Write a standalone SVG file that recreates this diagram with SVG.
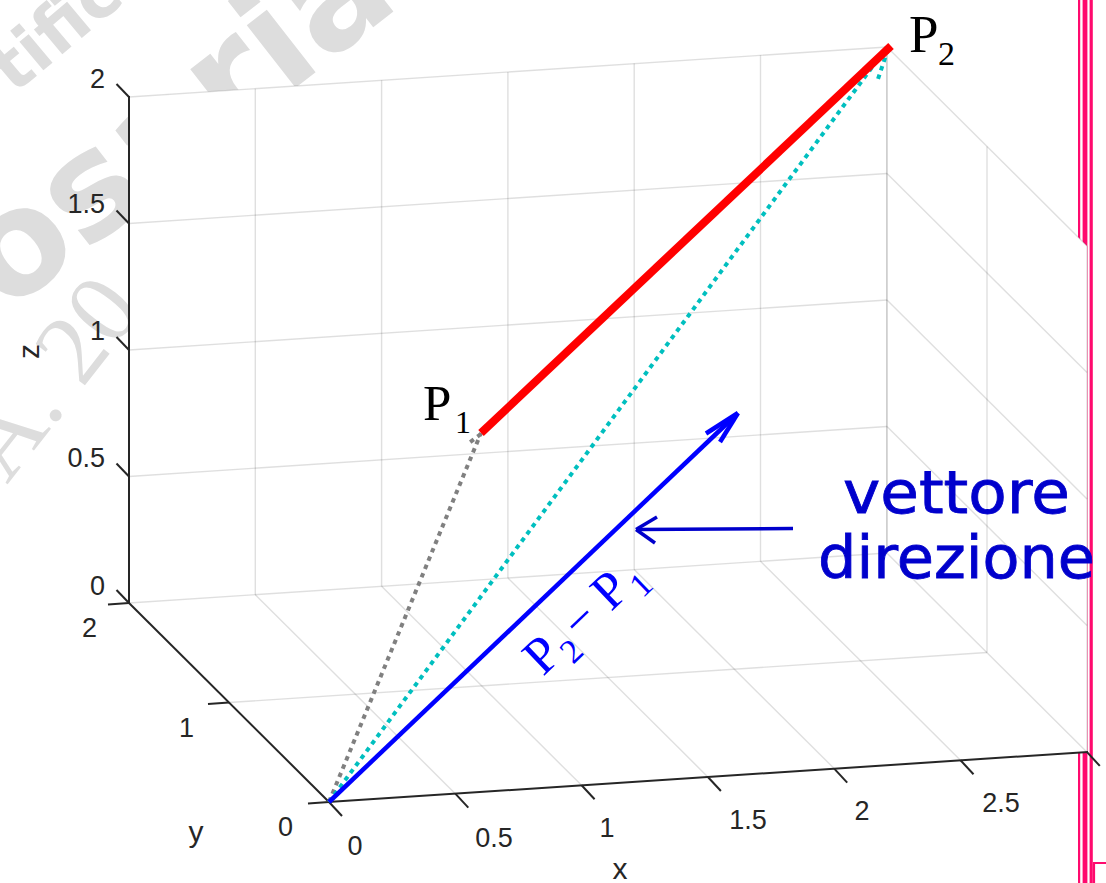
<svg xmlns="http://www.w3.org/2000/svg" width="1106" height="883" viewBox="0 0 1106 883">
<style>
.wm{fill:#dddddd;font-family:"DejaVu Sans",sans-serif;font-weight:bold}
.wms{fill:#dddddd;font-family:"Liberation Serif",serif}
.pink{fill:#ff0a6e}
.grid{stroke:#262626;stroke-opacity:0.15;stroke-width:1.4;fill:none}
.ax{stroke:#262626;stroke-width:2;fill:none;stroke-linecap:butt}
.tk{stroke:#262626;stroke-width:2;fill:none}
.tl{fill:#262626;font-family:"Liberation Sans",Arial,sans-serif;font-size:27px}
.al{fill:#262626;font-family:"Liberation Sans",Arial,sans-serif;font-size:30px}
.pt{fill:#000;font-family:"Liberation Serif","Times New Roman",serif}
.bt{fill:#0000ff;font-family:"Liberation Serif","Times New Roman",serif}
.ann{fill:#0000cc;font-family:"DejaVu Sans",sans-serif;font-size:58px;stroke:#0000cc;stroke-width:0.8}
.dot{fill:none;stroke-width:4;stroke-dasharray:4.5 4.5}
</style>

<g id="watermark">
  <text class="wm" font-size="68" transform="translate(14,95) rotate(-40)">tifica</text>
  <text class="wm" font-size="145" transform="translate(6,314) rotate(-38)">osaria</text>
  <text class="wms" font-size="100" transform="translate(7,485) rotate(-52)">A. 20</text>
</g>

<g id="page-frame">
  <rect class="pink" x="1078" y="0" width="2.2" height="883"/>
  <rect class="pink" x="1082.6" y="0" width="4.8" height="883"/>
  <rect class="pink" x="1089.6" y="0" width="3.2" height="883"/>
  <path d="M1094,883 V863 H1106" fill="none" stroke="#ff0a6e" stroke-width="2.2"/>
</g>

<g id="plot-box">
  <polygon points="129,97 887,47 1087,246 1087,752 329,802 129,603" fill="#ffffff"/>
</g>

<g id="grid">
  <line class="grid" x1="129" y1="603" x2="887" y2="553"/>
  <line class="grid" x1="129" y1="476.5" x2="887" y2="426.5"/>
  <line class="grid" x1="129" y1="350" x2="887" y2="300"/>
  <line class="grid" x1="129" y1="223.5" x2="887" y2="173.5"/>
  <line class="grid" x1="129" y1="97" x2="887" y2="47"/>
  <line class="grid" x1="255.3" y1="594.65" x2="255.3" y2="88.65"/>
  <line class="grid" x1="381.6" y1="586.3" x2="381.6" y2="80.3"/>
  <line class="grid" x1="507.9" y1="577.95" x2="507.9" y2="71.95"/>
  <line class="grid" x1="634.2" y1="569.6" x2="634.2" y2="63.6"/>
  <line class="grid" x1="760.5" y1="561.25" x2="760.5" y2="55.25"/>
  <line class="grid" x1="886.8" y1="552.9" x2="886.8" y2="46.9"/>
  <line class="grid" x1="455.3" y1="793.65" x2="255.3" y2="594.65"/>
  <line class="grid" x1="581.6" y1="785.3" x2="381.6" y2="586.3"/>
  <line class="grid" x1="707.9" y1="776.95" x2="507.9" y2="577.95"/>
  <line class="grid" x1="834.2" y1="768.6" x2="634.2" y2="569.6"/>
  <line class="grid" x1="960.5" y1="760.25" x2="760.5" y2="561.25"/>
  <line class="grid" x1="1086.8" y1="751.9" x2="886.8" y2="552.9"/>
  <line class="grid" x1="229" y1="702.5" x2="987" y2="652.5"/>
  <line class="grid" x1="887" y1="426.5" x2="1087" y2="625.5"/>
  <line class="grid" x1="887" y1="300" x2="1087" y2="499"/>
  <line class="grid" x1="887" y1="173.5" x2="1087" y2="372.5"/>
  <line class="grid" x1="887" y1="47" x2="1087" y2="246"/>
  <line class="grid" x1="987" y1="652.5" x2="987" y2="146.5"/>
  <line class="grid" x1="1087" y1="752" x2="1087" y2="246"/>
  <line class="grid" x1="887" y1="553" x2="887" y2="47"/>
</g>

<g id="axes">
  <line class="ax" x1="129" y1="604" x2="129" y2="96"/>
  <line class="ax" x1="329" y1="802" x2="129" y2="603"/>
  <line class="ax" x1="328" y1="802" x2="1088" y2="752"/>
  <line class="tk" x1="129" y1="603" x2="116.5" y2="590"/>
  <line class="tk" x1="129" y1="476.5" x2="116.5" y2="463.5"/>
  <line class="tk" x1="129" y1="350" x2="116.5" y2="337"/>
  <line class="tk" x1="129" y1="223.5" x2="116.5" y2="210.5"/>
  <line class="tk" x1="129" y1="97" x2="116.5" y2="84"/>
  <line class="tk" x1="329" y1="802" x2="308" y2="803.4"/>
  <line class="tk" x1="229" y1="702.5" x2="208" y2="703.9"/>
  <line class="tk" x1="129" y1="603" x2="108" y2="604.4"/>
  <line class="tk" x1="329" y1="802" x2="342" y2="816"/>
  <line class="tk" x1="455.3" y1="793.65" x2="468.3" y2="807.65"/>
  <line class="tk" x1="581.6" y1="785.3" x2="594.6" y2="799.3"/>
  <line class="tk" x1="707.9" y1="776.95" x2="720.9" y2="790.95"/>
  <line class="tk" x1="834.2" y1="768.6" x2="847.2" y2="782.6"/>
  <line class="tk" x1="960.5" y1="760.25" x2="973.5" y2="774.25"/>
  <line class="tk" x1="1086.8" y1="751.9" x2="1099.8" y2="765.9"/>
</g>

<g id="tick-labels">
  <text class="tl" x="105" y="88" text-anchor="end">2</text>
  <text class="tl" x="105" y="213" text-anchor="end">1.5</text>
  <text class="tl" x="105" y="340" text-anchor="end">1</text>
  <text class="tl" x="105" y="467" text-anchor="end">0.5</text>
  <text class="tl" x="105" y="595" text-anchor="end">0</text>
  <text class="tl" x="97" y="637" text-anchor="end">2</text>
  <text class="tl" x="194" y="737" text-anchor="end">1</text>
  <text class="tl" x="293" y="836" text-anchor="end">0</text>
  <text class="tl" x="355" y="855" text-anchor="middle">0</text>
  <text class="tl" x="494" y="847" text-anchor="middle">0.5</text>
  <text class="tl" x="607" y="837" text-anchor="middle">1</text>
  <text class="tl" x="748" y="829" text-anchor="middle">1.5</text>
  <text class="tl" x="862" y="820" text-anchor="middle">2</text>
  <text class="tl" x="1001" y="812" text-anchor="middle">2.5</text>
  <text class="al" x="196" y="842" text-anchor="middle">y</text>
  <text class="al" x="620" y="879" text-anchor="middle">x</text>
  <text class="al" text-anchor="middle" transform="translate(39,351.5) rotate(-90)">z</text>
</g>

<g id="connectors">
  <line id="op1" class="dot" stroke="#808080" x1="329" y1="802" x2="481" y2="433"/>
  <line class="dot" stroke="#808080" x1="481" y1="434" x2="469" y2="443"/>
  <line id="op2" class="dot" stroke="#00bfbf" x1="329" y1="802" x2="887" y2="47"/>
  <line class="dot" stroke="#00bfbf" x1="888" y1="49" x2="877" y2="82"/>
  <line id="segment" x1="481" y1="433" x2="891" y2="46" stroke="#ff0000" stroke-width="8"/>
  <g id="vector" stroke="#0000ff" stroke-width="4.5" fill="none" stroke-linecap="butt">
    <line x1="329" y1="802" x2="737" y2="414"/>
    <line x1="738" y1="413" x2="706" y2="433.5"/>
    <line x1="738" y1="413" x2="720" y2="442"/>
  </g>
  <g id="annotation-arrow" stroke="#0000cc" stroke-width="3.5" fill="none">
    <line x1="793" y1="528.5" x2="637" y2="529.5"/>
    <line x1="636" y1="529.5" x2="657" y2="517"/>
    <line x1="636" y1="529.5" x2="655" y2="543"/>
  </g>
</g>

<g id="P1">
  <text class="pt" x="423" y="420" font-size="51">P</text>
  <text class="pt" x="455" y="433" font-size="32">1</text>
</g>
<g id="P2">
  <text class="pt" x="909" y="52" font-size="53">P</text>
  <text class="pt" x="938" y="65" font-size="34">2</text>
</g>
<g id="vector-label" transform="translate(543,677) rotate(-43.6)">
  <text class="bt" x="0" y="0" font-size="52">P</text>
  <text class="bt" x="30" y="12" font-size="34">2</text>
  <text class="bt" x="52" y="0" font-size="50">−</text>
  <text class="bt" x="94" y="0" font-size="52">P</text>
  <text class="bt" x="126" y="12" font-size="34">1</text>
</g>
<g id="annotation-text">
  <text class="ann" x="843" y="513" textLength="227" lengthAdjust="spacingAndGlyphs">vettore</text>
  <text class="ann" x="818" y="578" textLength="277" lengthAdjust="spacingAndGlyphs">direzione</text>
</g>
</svg>
